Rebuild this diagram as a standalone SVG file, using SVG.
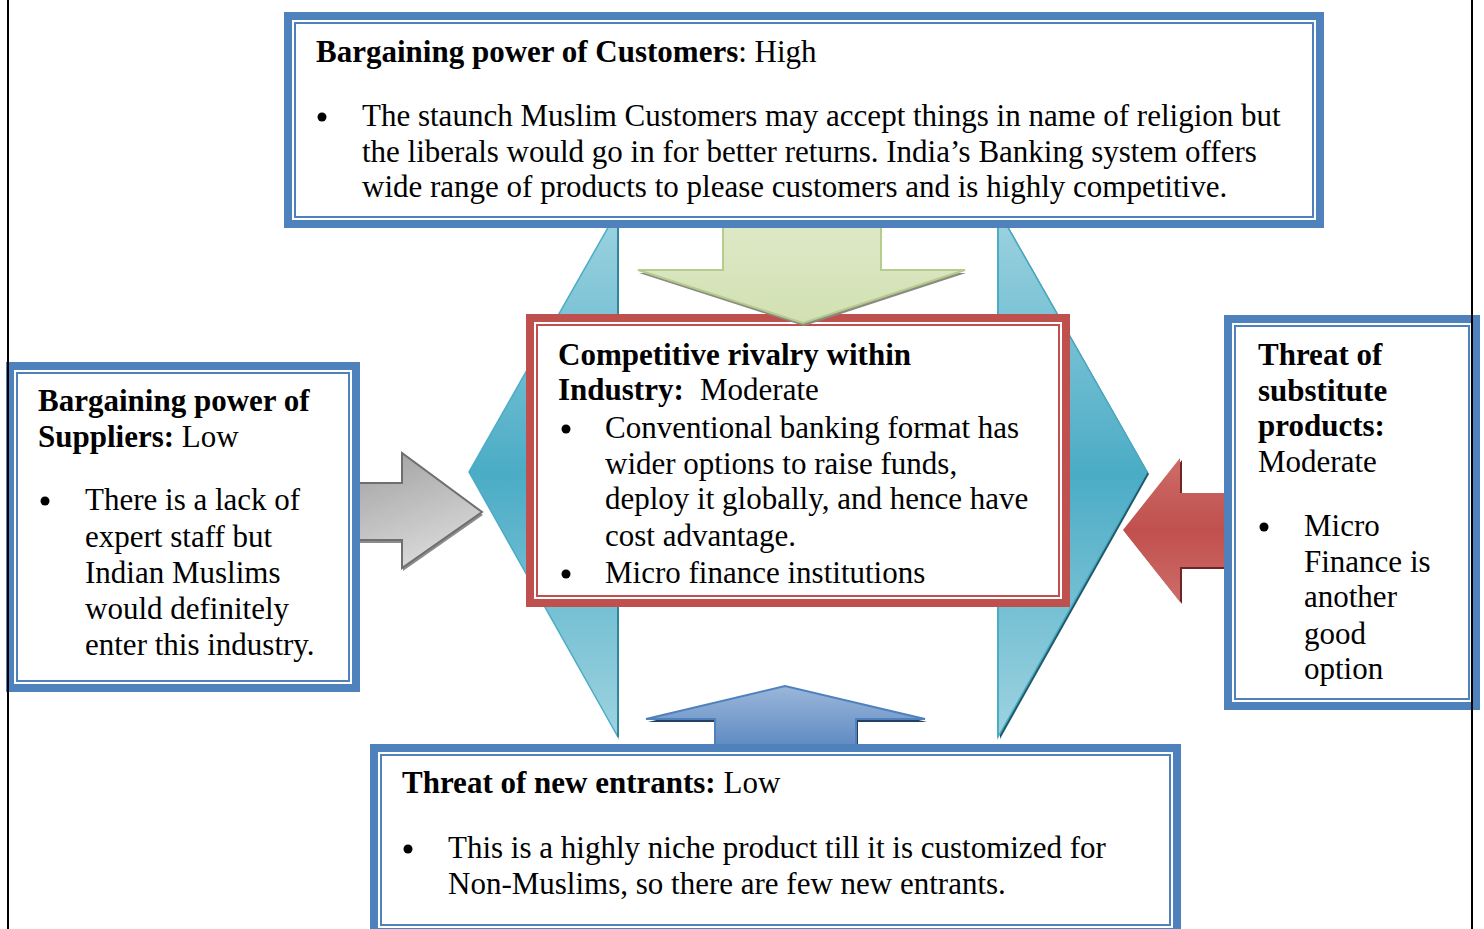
<svg xmlns="http://www.w3.org/2000/svg" width="1484" height="929" viewBox="0 0 1484 929">
<defs>
<linearGradient id="teal" x1="0" y1="0" x2="0" y2="1">
<stop offset="0" stop-color="#9ED3E0"/>
<stop offset="0.5" stop-color="#4BACC6"/>
<stop offset="1" stop-color="#9ED3E0"/>
</linearGradient>
<linearGradient id="green" x1="0" y1="0" x2="0" y2="1">
<stop offset="0" stop-color="#DDE8C6"/>
<stop offset="1" stop-color="#D2E1B3"/>
</linearGradient>
<linearGradient id="gray" x1="0" y1="0" x2="0.4" y2="1">
<stop offset="0" stop-color="#A0A0A0"/>
<stop offset="1" stop-color="#D8D8D8"/>
</linearGradient>
<linearGradient id="red" x1="0" y1="0" x2="0" y2="1">
<stop offset="0" stop-color="#CD6C69"/>
<stop offset="0.5" stop-color="#C0504D"/>
<stop offset="1" stop-color="#CD6C69"/>
</linearGradient>
<linearGradient id="blue" x1="0" y1="0" x2="0" y2="1">
<stop offset="0" stop-color="#9BB7DA"/>
<stop offset="1" stop-color="#5D89C2"/>
</linearGradient>
<style>
.t{font-family:"Liberation Serif","Times New Roman",serif;font-size:31px;fill:#000}
.b{font-weight:bold}
.thickB{fill:none;stroke:#4F81BD;stroke-width:8}
.thinB{fill:none;stroke:#4F81BD;stroke-width:2}
.thickR{fill:none;stroke:#C0504D;stroke-width:8}
.thinR{fill:none;stroke:#C0504D;stroke-width:2}
.bg{fill:#fff}
</style>
</defs>

<g id="hexagon">
<polygon points="618,210 469,472 618,737" fill="url(#teal)" stroke="#4BACC6" stroke-width="1.5"/>
<line x1="618" y1="210" x2="618" y2="737" stroke="#31859C" stroke-width="2"/>
<polygon points="1000,212 1149,474 1000,739" fill="#215968"/>
<polygon points="998,210 1147,472 998,737" fill="url(#teal)" stroke="#4BACC6" stroke-width="1.5"/>
<line x1="998" y1="210" x2="998" y2="737" stroke="#4BACC6" stroke-width="2"/>
</g>

<g id="center">
<rect x="526" y="314" width="544" height="293" class="bg"/>
<rect x="530" y="318" width="536" height="285" class="thickR"/>
<rect x="537" y="325" width="522" height="271" class="thinR"/>
<text class="t b" x="558" y="365">Competitive rivalry within</text>
<text class="t" y="400"><tspan class="b" x="558">Industry:</tspan><tspan x="700">Moderate</tspan></text>
<circle cx="566" cy="429" r="4.5"/>
<text class="t" x="605" y="438">Conventional banking format has</text>
<text class="t" x="605" y="474">wider options to raise funds,</text>
<text class="t" x="605" y="509">deploy it globally, and hence have</text>
<text class="t" x="605" y="546">cost advantage.</text>
<circle cx="566" cy="574" r="4.5"/>
<text class="t" x="605" y="583">Micro finance institutions</text>
</g>

<g id="connectors">
<path d="M723,226 L881,226 L881,270 L965,270 L803,323 L638,270 L723,270 Z" fill="#8A8A80" transform="translate(1,3)"/>
<path d="M723,226 L881,226 L881,270 L965,270 L803,323 L638,270 L723,270 Z" fill="url(#green)" stroke="#B5CC8E" stroke-width="2"/>
<path d="M356,483 L402,483 L402,453 L482,512 L402,568 L402,540 L356,540 Z" fill="#8C8C8C" transform="translate(1,3)"/>
<path d="M356,483 L402,483 L402,453 L482,512 L402,568 L402,540 L356,540 Z" fill="url(#gray)" stroke="#6F6F6F" stroke-width="2"/>
<path d="M1228,493 L1180,493 L1180,458 L1123,530 L1180,602 L1180,567 L1228,567 Z" fill="#6E2523" transform="translate(2,2)"/>
<path d="M1228,493 L1180,493 L1180,458 L1123,530 L1180,602 L1180,567 L1228,567 Z" fill="url(#red)"/>
<path d="M715,748 L715,719 L646,719 L785,686 L925,719 L856,719 L856,748 Z" fill="#243F60" transform="translate(2,3)"/>
<path d="M715,748 L715,719 L646,719 L785,686 L925,719 L856,719 L856,748 Z" fill="url(#blue)" stroke="#4F81BD" stroke-width="2"/>
</g>

<g id="customers">
<rect x="284" y="12" width="1040" height="216" class="bg"/>
<rect x="288" y="16" width="1032" height="208" class="thickB"/>
<rect x="295" y="23" width="1018" height="194" class="thinB"/>
<text class="t" x="316" y="62"><tspan class="b">Bargaining power of Customers</tspan>: High</text>
<circle cx="322" cy="117" r="4.5"/>
<text class="t" x="362" y="126">The staunch Muslim Customers may accept things in name of religion but</text>
<text class="t" x="362" y="162">the liberals would go in for better returns. India’s Banking system offers</text>
<text class="t" x="362" y="197">wide range of products to please customers and is highly competitive.</text>
</g>

<g id="suppliers">
<rect x="6" y="362" width="354" height="330" class="bg"/>
<rect x="10" y="366" width="346" height="322" class="thickB"/>
<rect x="17" y="373" width="332" height="308" class="thinB"/>
<text class="t b" x="38" y="411">Bargaining power of</text>
<text class="t" x="38" y="447"><tspan class="b">Suppliers:</tspan> Low</text>
<circle cx="45" cy="501" r="4.5"/>
<text class="t" x="85" y="510">There is a lack of</text>
<text class="t" x="85" y="547">expert staff but</text>
<text class="t" x="85" y="583">Indian Muslims</text>
<text class="t" x="85" y="619">would definitely</text>
<text class="t" x="85" y="655">enter this industry.</text>
</g>

<g id="substitutes">
<rect x="1224" y="315" width="256" height="395" class="bg"/>
<rect x="1228" y="319" width="248" height="387" class="thickB"/>
<rect x="1235" y="326" width="234" height="373" class="thinB"/>
<text class="t b" x="1258" y="365">Threat of</text>
<text class="t b" x="1258" y="401">substitute</text>
<text class="t b" x="1258" y="436">products:</text>
<text class="t" x="1258" y="472">Moderate</text>
<circle cx="1264" cy="527" r="4.5"/>
<text class="t" x="1304" y="536">Micro</text>
<text class="t" x="1304" y="572">Finance is</text>
<text class="t" x="1304" y="607">another</text>
<text class="t" x="1304" y="644">good</text>
<text class="t" x="1304" y="679">option</text>
</g>

<g id="entrants">
<rect x="370" y="744" width="811" height="192" class="bg"/>
<rect x="374" y="748" width="803" height="184" class="thickB"/>
<rect x="381" y="755" width="789" height="170" class="thinB"/>
<text class="t" x="402" y="793"><tspan class="b">Threat of new entrants:</tspan> Low</text>
<circle cx="408" cy="849" r="4.5"/>
<text class="t" x="448" y="858">This is a highly niche product till it is customized for</text>
<text class="t" x="448" y="894">Non-Muslims, so there are few new entrants.</text>
</g>

<g id="page-lines">
<line x1="8" y1="0" x2="8" y2="929" stroke="#000" stroke-width="2"/>
<line x1="1472" y1="0" x2="1472" y2="929" stroke="#000" stroke-width="2"/>
</g>
</svg>
